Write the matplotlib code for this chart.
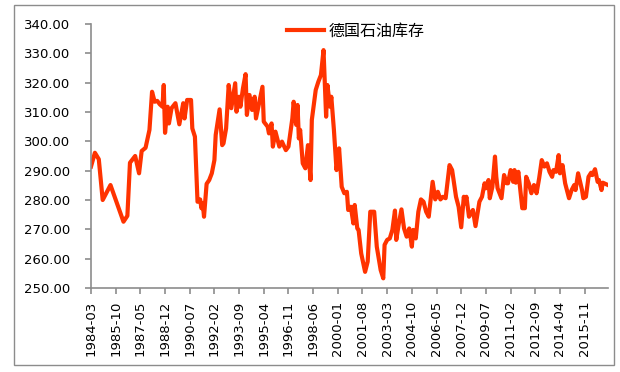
import matplotlib
matplotlib.use("Agg")
import matplotlib.pyplot as plt
from matplotlib.patches import Rectangle

# German oil stocks (month, value)
dates = [
    "1984-03", "1984-06", "1984-09", "1984-12", "1985-06", "1986-04", "1986-07", "1986-09",
    "1987-01", "1987-04", "1987-06", "1987-09", "1987-12", "1988-02", "1988-04", "1988-06",
    "1988-08", "1988-10", "1988-11", "1988-12", "1989-02", "1989-03", "1989-05", "1989-08",
    "1989-11", "1990-02", "1990-03", "1990-05", "1990-08", "1990-09", "1990-11", "1991-01",
    "1991-03", "1991-04", "1991-05", "1991-06", "1991-08", "1991-10", "1991-12", "1992-02",
    "1992-03", "1992-06", "1992-08", "1992-09", "1992-11", "1993-01", "1993-03", "1993-06",
    "1993-07", "1993-09", "1993-10", "1993-12", "1994-02", "1994-03", "1994-05", "1994-07",
    "1994-09", "1994-10", "1995-03", "1995-04", "1995-07", "1995-08", "1995-10", "1995-11",
    "1996-01", "1996-04", "1996-06", "1996-09", "1996-11", "1997-02", "1997-03", "1997-05",
    "1997-06", "1997-07", "1997-08", "1997-10", "1997-12", "1998-02", "1998-04", "1998-05",
    "1998-08", "1998-10", "1998-12", "1999-02", "1999-04", "1999-05", "1999-07", "1999-08",
    "1999-10", "1999-12", "2000-02", "2000-04", "2000-06", "2000-08", "2000-09", "2000-11",
    "2001-01", "2001-02", "2001-04", "2001-05", "2001-07", "2001-10", "2001-12", "2002-02",
    "2002-05", "2002-07", "2002-10", "2002-12", "2003-01", "2003-03", "2003-05", "2003-07",
    "2003-09", "2003-10", "2003-12", "2004-02", "2004-04", "2004-06", "2004-08", "2004-10",
    "2004-11", "2005-01", "2005-03", "2005-05", "2005-07", "2005-09", "2005-11", "2006-02",
    "2006-04", "2006-06", "2006-08", "2006-10", "2006-12", "2007-03", "2007-05", "2007-08",
    "2007-10", "2007-12", "2008-02", "2008-03", "2008-04", "2008-06", "2008-09", "2008-11",
    "2009-02", "2009-04", "2009-06", "2009-07", "2009-09", "2009-10", "2009-12", "2010-02",
    "2010-03", "2010-04", "2010-07", "2010-09", "2010-11", "2010-12", "2011-02", "2011-04",
    "2011-05", "2011-06", "2011-08", "2011-11", "2012-01", "2012-02", "2012-04", "2012-06",
    "2012-08", "2012-10", "2012-12", "2013-02", "2013-04", "2013-06", "2013-08", "2013-10",
    "2013-11", "2014-01", "2014-03", "2014-04", "2014-06", "2014-08", "2014-11", "2015-01",
    "2015-03", "2015-04", "2015-06", "2015-09", "2015-10", "2015-12", "2016-02", "2016-04",
    "2016-05", "2016-07", "2016-09", "2016-10", "2016-12", "2017-01", "2017-03", "2017-05",
]
stocks = [
    291.4, 296.1, 293.9, 280.0, 285.1, 272.6, 274.6, 292.7,
    295.0, 289.1, 296.7, 297.8, 303.9, 316.9, 313.5, 313.8,
    312.6, 311.8, 319.2, 302.9, 311.8, 306.1, 311.3, 313.0,
    305.8, 313.0, 307.8, 314.1, 314.1, 304.4, 301.6, 279.4,
    280.2, 277.2, 279.0, 274.3, 285.5, 286.8, 289.1, 293.6,
    302.2, 310.9, 298.7, 299.3, 304.4, 319.2, 311.3, 319.8,
    310.1, 315.2, 311.8, 318.1, 322.9, 309.0, 315.8, 310.7,
    315.2, 307.8, 318.6, 306.7, 305.0, 302.7, 306.1, 298.2,
    303.3, 298.2, 299.9, 297.0, 298.2, 307.8, 313.5, 305.6,
    312.4, 301.0, 303.9, 292.5, 290.8, 298.7, 286.8, 307.3,
    317.5, 320.3, 322.6, 331.1, 308.4, 319.2, 311.8, 315.2,
    303.9, 290.2, 297.6, 284.5, 282.3, 282.8, 276.6, 277.7,
    272.0, 278.3, 270.3, 269.8, 261.8, 255.5, 259.0, 276.0,
    276.0, 264.1, 256.1, 253.3, 264.7, 266.4, 266.9, 269.8,
    276.4, 266.4, 272.0, 276.8, 270.3, 267.5, 270.3, 264.1,
    269.8, 266.9, 276.0, 280.2, 279.4, 276.0, 274.3, 286.2,
    280.2, 282.8, 280.2, 281.1, 280.6, 291.9, 290.2, 281.1,
    277.7, 270.7, 281.1, 278.9, 281.1, 274.3, 276.6, 271.1,
    279.4, 281.1, 285.7, 284.0, 286.8, 280.6, 284.5, 294.8,
    287.9, 284.0, 280.6, 288.5, 285.7, 285.7, 290.2, 286.2,
    290.2, 285.9, 289.6, 277.2, 277.2, 287.9, 285.7, 282.3,
    285.1, 282.3, 287.4, 293.6, 291.4, 292.5, 289.6, 287.9,
    290.2, 289.6, 295.3, 289.1, 291.9, 285.7, 280.6, 283.4,
    285.1, 283.4, 289.1, 283.4, 280.6, 281.1, 287.9, 289.3,
    288.5, 290.5, 286.2, 286.8, 283.4, 285.9, 285.5, 285.1,
]
tick_labels = [
    "1984-03", "1985-10", "1987-05", "1988-12", "1990-07", "1992-02", "1993-09",
    "1995-04", "1996-11", "1998-06", "2000-01", "2001-08", "2003-03", "2004-10",
    "2006-05", "2007-12", "2009-07", "2011-02", "2012-09", "2014-04", "2015-11",
]
y_ticks = [250, 260, 270, 280, 290, 300, 310, 320, 330, 340]


def month_index(s):
    y, m = s.split("-")
    return (int(y) - 1984) * 12 + int(m) - 3


x = [month_index(d) for d in dates]
tick_pos = [month_index(t) for t in tick_labels]

fig = plt.figure(figsize=(6.2, 3.72), dpi=100)
fig.patches.append(Rectangle((14 / 620, 7 / 372), 600 / 620, 360 / 372,
                             transform=fig.transFigure, fill=False,
                             edgecolor="#8c8c8c", linewidth=1.0))
ax = fig.add_axes([91 / 620, 84 / 372, 517 / 620, 264 / 372])

ax.plot(x, stocks, color="#FF3300", linewidth=3.0, label="德国石油库存",
        solid_joinstyle="round")

ax.set_xlim(0, 398)
ax.set_ylim(250, 340)
ax.set_yticks(y_ticks)
ax.set_yticklabels(["%.2f" % v for v in y_ticks], fontsize=9.5)
ax.set_xticks(tick_pos)
ax.set_xticklabels(tick_labels, rotation=90, fontsize=9.5)

for s in ["top", "right"]:
    ax.spines[s].set_visible(False)
for s in ["left", "bottom"]:
    ax.spines[s].set_color("#8c8c8c")
    ax.spines[s].set_linewidth(1.2)
ax.tick_params(axis="both", direction="out", length=4, color="#8c8c8c",
               width=1.2, labelcolor="black")
ax.tick_params(axis="y", pad=11)
ax.tick_params(axis="x", pad=5)

leg = ax.legend(loc="upper center", bbox_to_anchor=(0.512, 1.06), frameon=False,
                handlelength=2.3, handletextpad=0.3,
                prop={"family": ["Noto Sans CJK SC", "DejaVu Sans"], "size": 11.5})

fig.savefig("out.png", dpi=100)
